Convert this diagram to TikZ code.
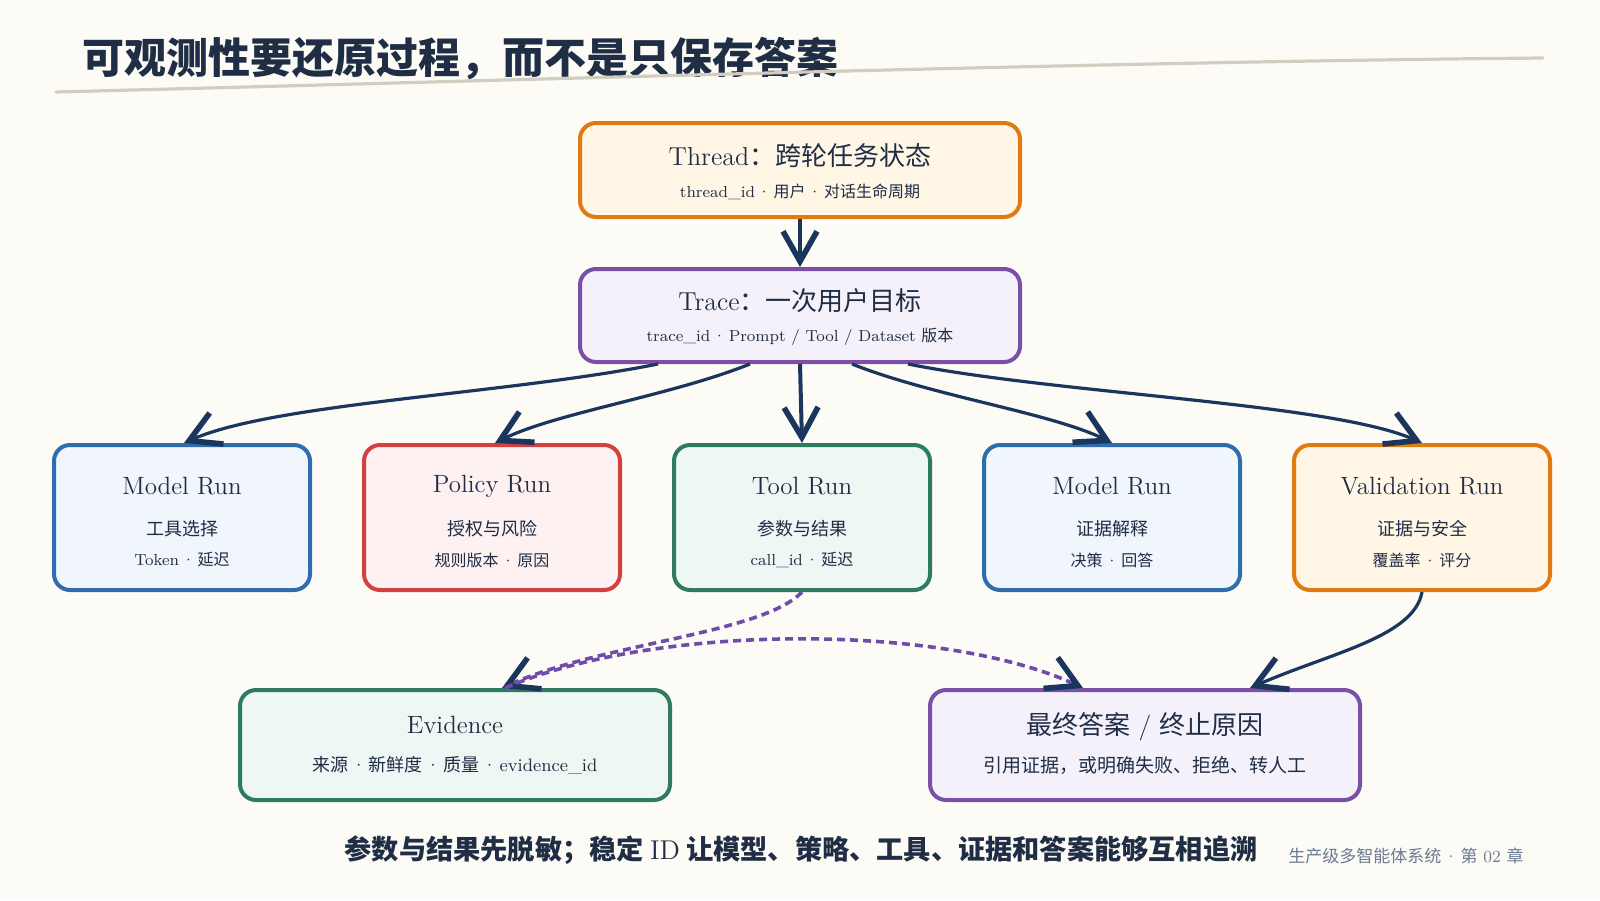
\documentclass[tikz,border=0pt]{standalone}
\usepackage{fontspec}
\newfontfamily\cjk{Noto Sans CJK SC}
\usetikzlibrary{arrows.meta,calc}
\definecolor{bg}{HTML}{FDFBF6}
\definecolor{ink}{HTML}{1F2D45}
\definecolor{arrowc}{HTML}{1B365D}
\definecolor{orangeB}{HTML}{E07B12}
\definecolor{orangeF}{HTML}{FFF6E6}
\definecolor{purpleB}{HTML}{7A4FA8}
\definecolor{purpleF}{HTML}{F4F1FB}
\definecolor{blueB}{HTML}{2F6DAE}
\definecolor{blueF}{HTML}{F1F5FC}
\definecolor{redB}{HTML}{D2413F}
\definecolor{redF}{HTML}{FDF1F1}
\definecolor{greenB}{HTML}{2E7B60}
\definecolor{greenF}{HTML}{EFF7F4}
\definecolor{lineG}{HTML}{D1CDC1}
\definecolor{noteC}{HTML}{6B7A92}
\definecolor{dashC}{HTML}{6F4CA8}
\newcommand\dt{\,·\,}
\begin{document}
\begin{tikzpicture}[x=0.5pt,y=-0.5pt,
  box/.style n args={4}{draw=#1,fill=#2,minimum width=#3,minimum height=#4,
    rounded corners=8pt,line width=2pt,inner sep=0pt},
  ttl/.style={text=ink,inner sep=0pt,font=\fontsize{12.5}{15}\selectfont},
  bigttl/.style={text=ink,inner sep=0pt,font=\fontsize{13}{16}\selectfont},
  subA/.style={text=ink,inner sep=0pt,font=\fontsize{9}{11}\selectfont},
  subB/.style={text=ink,inner sep=0pt,font=\fontsize{8}{10}\selectfont},
  arr/.style={draw=arrowc,line width=1.6pt,
    -{Straight Barb[length=15pt,width=17pt,line width=2.8pt]}},
  darr/.style={draw=dashC,line width=1.8pt,dash pattern=on 4pt off 2.5pt,
    -{Straight Barb[length=15pt,width=17pt,line width=2.8pt,color=arrowc]}},
]
\useasboundingbox (0,0) rectangle (1600,900);
\fill[bg] (0,0) rectangle (1600,900);

% title
\node[anchor=west,text=ink,inner sep=0pt,font=\cjk\bfseries\fontsize{21}{25}\selectfont] (title) at (82,59) {可观测性要还原过程，而不是只保存答案};
\draw[lineG,line width=1.6pt,line cap=round] (56,92) .. controls (600,78) and (1100,62) .. (1543,58);

% boxes
\node[box={orangeB}{orangeF}{220pt}{47pt}] (thread) at (800,170) {};
\node[bigttl] (threadT) at (800,156) {Thread{\cjk ：跨轮任务状态}};
\node[subB] (threadS) at (800,192) {thread\_id\dt{\cjk 用户}\dt{\cjk 对话生命周期}};

\node[box={purpleB}{purpleF}{220pt}{46.5pt}] (trace) at (800,315.5) {};
\node[bigttl] (traceT) at (800,301) {Trace{\cjk ：一次用户目标}};
\node[subB] (traceS) at (800,337) {trace\_id\dt Prompt / Tool / Dataset {\cjk 版本}};

\node[box={blueB}{blueF}{128pt}{72.5pt}] (run1) at (182,517.5) {};
\node[ttl] (run1T) at (182,486) {Model Run};
\node[subA] (run1A) at (182,529) {\cjk 工具选择};
\node[subB] (run1B) at (182,560) {Token\dt{\cjk 延迟}};

\node[box={redB}{redF}{128pt}{72.5pt}] (run2) at (492,517.5) {};
\node[ttl] (run2T) at (492,486) {Policy Run};
\node[subA] (run2A) at (492,529) {\cjk 授权与风险};
\node[subB] (run2B) at (492,560) {{\cjk 规则版本}\dt{\cjk 原因}};

\node[box={greenB}{greenF}{128pt}{72.5pt}] (run3) at (802,517.5) {};
\node[ttl] (run3T) at (802,486) {Tool Run};
\node[subA] (run3A) at (802,529) {\cjk 参数与结果};
\node[subB] (run3B) at (802,560) {call\_id\dt{\cjk 延迟}};

\node[box={blueB}{blueF}{128pt}{72.5pt}] (run4) at (1112,517.5) {};
\node[ttl] (run4T) at (1112,486) {Model Run};
\node[subA] (run4A) at (1112,529) {\cjk 证据解释};
\node[subB] (run4B) at (1112,560) {{\cjk 决策}\dt{\cjk 回答}};

\node[box={orangeB}{orangeF}{128pt}{72.5pt}] (run5) at (1422,517.5) {};
\node[ttl] (run5T) at (1422,486) {Validation Run};
\node[subA] (run5A) at (1422,529) {\cjk 证据与安全};
\node[subB] (run5B) at (1422,560) {{\cjk 覆盖率}\dt{\cjk 评分}};

\node[box={greenB}{greenF}{215pt}{55pt}] (evid) at (455,745) {};
\node[ttl] (evidT) at (455,725) {Evidence};
\node[subA] (evidS) at (455,765) {{\cjk 来源}\dt{\cjk 新鲜度}\dt{\cjk 质量}\dt evidence\_id};

\node[box={purpleB}{purpleF}{215pt}{55pt}] (final) at (1145,745) {};
\node[bigttl] (finalT) at (1145,727) {{\cjk 最终答案} / {\cjk 终止原因}};
\node[subA,font=\fontsize{9.5}{11}\selectfont] (finalS) at (1145,765) {\cjk 引用证据，或明确失败、拒绝、转人工};

% connectors
\draw[arr,line width=2pt] (thread.south) -- (trace.north);
\draw[arr] ($(trace.south)+(-142,0)$) .. controls +(-150,30) and +(90,-40) .. ($(run1.north)+(2,0)$);
\draw[arr] ($(trace.south)+(-50,0)$) .. controls +(-80,32) and +(60,-30) .. ($(run2.north)+(3,0)$);
\draw[arr,line width=2pt] (trace.south) -- (run3.north);
\draw[arr] ($(trace.south)+(52,0)$) .. controls +(80,32) and +(-60,-30) .. (run4.north);
\draw[arr] ($(trace.south)+(108,0)$) .. controls +(150,30) and +(-90,-40) .. (run5.north);
\draw[arr] (run5.south) .. controls +(-8,45) and +(80,-35) .. ($(final.north)+(105,0)$);
\draw[darr] (run3.south) .. controls +(-40,42) and +(100,-45) .. ($(evid.north)+(47,0)$);
\draw[darr] ($(evid.north)+(50,0)$) .. controls +(150,-65) and +(-140,-65) .. ($(final.north)+(-62,0)$);

% footer
\node[text=ink,inner sep=0pt,font=\cjk\bfseries\fontsize{13.6}{16}\selectfont] (foot) at (801,850) {参数与结果先脱敏；稳定 {\rmfamily\mdseries ID} 让模型、策略、工具、证据和答案能够互相追溯};
\node[text=noteC,inner sep=0pt,font=\fontsize{8.5}{10}\selectfont] (note) at (1406,856) {{\cjk 生产级多智能体系统}\dt{\cjk 第} 02 {\cjk 章}};
\end{tikzpicture}
\end{document}
